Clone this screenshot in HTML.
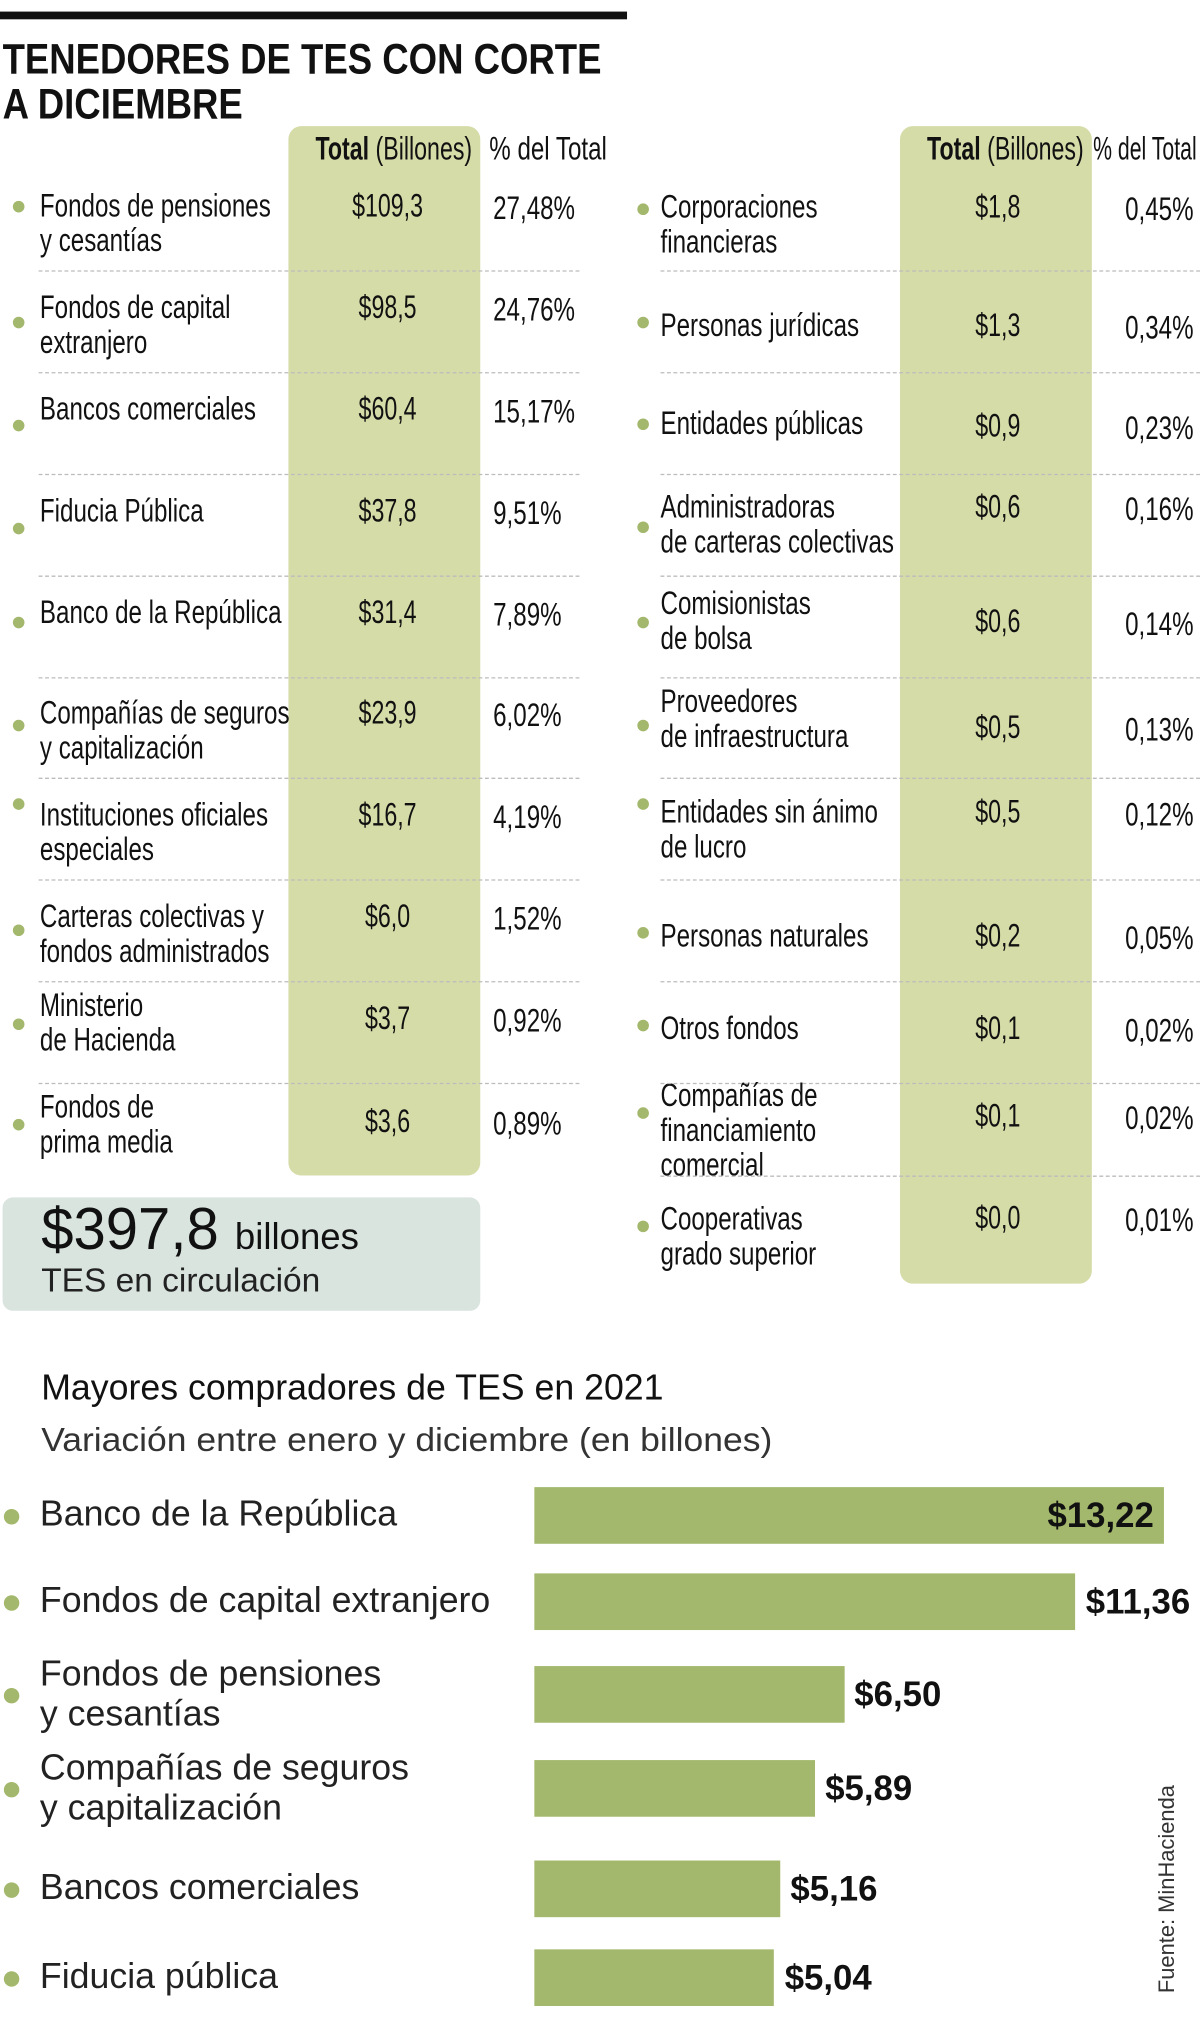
<!DOCTYPE html>
<html><head><meta charset="utf-8"><style>
html,body{margin:0;padding:0;background:#fff;}
body{width:1200px;height:2019px;overflow:hidden;position:relative;}
#wrap{position:absolute;left:0;top:0;width:932px;height:1568px;transform:scale(1.28755);transform-origin:0 0;font-family:"Liberation Sans",sans-serif;color:#111;}
.a{position:absolute;}
.n{position:absolute;white-space:nowrap;font-size:25px;line-height:27px;transform:scaleX(0.75);transform-origin:0 0;}
.pr{position:absolute;white-space:nowrap;font-size:25px;line-height:27px;transform:scaleX(0.75);transform-origin:100% 0;text-align:right;width:120px;}
.v{position:absolute;white-space:nowrap;font-size:25px;line-height:27px;transform:scaleX(0.72);text-align:center;width:150px;}
.b{position:absolute;width:9px;height:9px;border-radius:50%;background:#a3b86c;}
.dash{position:absolute;height:0;border-top:1.5px dashed #bcbcbc;}
</style></head><body>
<div id="wrap">
<div class="a" style="left:0;top:9px;width:487px;height:6px;background:#111"></div>
<div class="a" style="left:2px;top:28px;font-size:33px;font-weight:bold;line-height:35px;transform:scaleX(0.86);transform-origin:0 0;white-space:nowrap">TENEDORES DE TES CON CORTE<br>A DICIEMBRE</div>
<div class="a" style="left:224px;top:98px;width:149px;height:815px;background:#d6dca8;border-radius:10px"></div>
<div class="a" style="left:699px;top:98px;width:149px;height:899px;background:#d6dca8;border-radius:10px"></div>
<div class="v" style="left:224px;top:103px"><b>Total</b> (Billones)</div>
<div class="n" style="left:380px;top:103px">% del Total</div>
<div class="v" style="left:699px;top:103px"><b>Total</b> (Billones)</div>
<div class="n" style="left:849px;top:103px;transform:scaleX(0.66)">% del Total</div>
<div id="tables"></div>
<div class="a" style="left:2px;top:930px;width:371px;height:88px;background:#d9e4df;border-radius:8px"></div>
<div class="a" style="left:32px;top:928px;font-size:46px;line-height:52px;white-space:nowrap;transform:scaleX(0.98);transform-origin:0 0">$397,8 <span style="font-size:29px">billones</span></div>
<div class="a" style="left:32px;top:979px;font-size:26px;line-height:30px;white-space:nowrap;transform:scaleX(1.0);transform-origin:0 0;color:#222">TES en circulación</div>
<div class="a" style="left:32px;top:1061px;font-size:28px;line-height:34px;white-space:nowrap;transform:scaleX(0.99);transform-origin:0 0">Mayores compradores de TES en 2021</div>
<div class="a" style="left:32px;top:1101px;font-size:26px;line-height:34px;white-space:nowrap;transform:scaleX(1.06);transform-origin:0 0;color:#333">Variación entre enero y diciembre (en billones)</div>
<div id="bars"></div>
<div class="a" style="left:897px;top:1548px;font-size:17px;line-height:20px;white-space:nowrap;transform:rotate(-90deg);transform-origin:0 0;color:#333">Fuente: MinHacienda</div>
</div>
<script>
const leftNames=[["Fondos de pensiones","y cesantías"],["Fondos de capital","extranjero"],["Bancos comerciales"],["Fiducia Pública"],["Banco de la República"],["Compañías de seguros","y capitalización"],["Instituciones oficiales","especiales"],["Carteras colectivas y","fondos administrados"],["Ministerio","de Hacienda"],["Fondos de","prima media"]];
const leftVals=["$109,3","$98,5","$60,4","$37,8","$31,4","$23,9","$16,7","$6,0","$3,7","$3,6"];
const leftPcts=["27,48%","24,76%","15,17%","9,51%","7,89%","6,02%","4,19%","1,52%","0,92%","0,89%"];
const leftY=[[160,160,160],[239,239,250],[318,318,330],[397,397,410],[476,476,483],[554,554,563],[633,633,624],[712,712,722],[781,791,795],[860,871,873]];
const rightNames=[["Corporaciones","financieras"],["Personas jurídicas"],["Entidades públicas"],["Administradoras","de carteras colectivas"],["Comisionistas","de bolsa"],["Proveedores","de infraestructura"],["Entidades sin ánimo","de lucro"],["Personas naturales"],["Otros fondos"],["Compañías de","financiamiento","comercial"],["Cooperativas","grado superior"]];
const rightVals=["$1,8","$1,3","$0,9","$0,6","$0,6","$0,5","$0,5","$0,2","$0,1","$0,1","$0,0"];
const rightPcts=["0,45%","0,34%","0,23%","0,16%","0,14%","0,13%","0,12%","0,05%","0,02%","0,02%","0,01%"];
const rightY=[[161,161,162],[253,253,250],[329,331,329],[394,394,409],[469,483,483],[545,565,563],[631,631,624],[727,727,724],[799,799,796],[851,867,864],[947,946,952]];
const T=document.getElementById('tables');
function mk(cls,name,inter){const e=document.createElement('div');e.className=cls;


T.appendChild(e);return e;}
function table(names,vals,pcts,ys,lx,bx,vx,px,pr,side){
 names.forEach((nm,i)=>{
  const y=ys[i];
  const b=mk('b',side+'-bullet','false');b.style.left=bx+'px';b.style.top=(y[2]-4)+'px';
  const l=mk('n',side+'-holder-label','false');l.style.left=lx+'px';l.style.top=(y[0]-13)+'px';l.innerHTML=nm.join('<br>');
  const v=mk('v',side+'-holder-total','false');v.style.left=vx+'px';v.style.top=(y[1]-13)+'px';v.textContent=vals[i];
  let p;
  if(pr){p=mk('pr',side+'-holder-pct','false');p.style.left=(pr-120)+'px';}
  else{p=mk('n',side+'-holder-pct','false');p.style.left=px+'px';}
  p.textContent=pcts[i];p.style.top=(y[1]-11)+'px';
 });
}
table(leftNames,leftVals,leftPcts,leftY,31,10,226,383,0,'left');
table(rightNames,rightVals,rightPcts,rightY,513,495,700,0,927,'right');
[210,289,368,447,526,604,683,762,841].forEach(y=>{const d=mk('dash','left-row-divider','false');d.style.left='30px';d.style.width='420px';d.style.top=y+'px';});
[210,289,368,447,526,604,683,762,841,913].forEach(y=>{const d=mk('dash','right-row-divider','false');d.style.left='513px';d.style.width='419px';d.style.top=y+'px';});

const barCats=[["Banco de la República"],["Fondos de capital extranjero"],["Fondos de pensiones","y cesantías"],["Compañías de seguros","y capitalización"],["Bancos comerciales"],["Fiducia pública"]];
const barVals=[13.22,11.36,6.50,5.89,5.16,5.04];
const barLabels=["$13,22","$11,36","$6,50","$5,89","$5,16","$5,04"];
const B=document.getElementById('bars');
const x0=415,xMax=932,pxPer=37;
const xs=v=>x0+v*pxPer;
const barTop=[1155,1222,1294,1367,1445,1514];
barVals.forEach((v,i)=>{
 const top=barTop[i],xe=Math.min(xs(v),xMax);
 const r=document.createElement('div');
 
 
 r.style.cssText=`position:absolute;left:${x0}px;top:${top}px;width:${xe-x0}px;height:44px;background:#a3b86c`;
 B.appendChild(r);
 const t=document.createElement('div');
 
 
 const inside=xs(v)>xMax-90;
 t.style.cssText=`position:absolute;top:${top+5}px;font-size:27px;line-height:34px;font-weight:bold;white-space:nowrap;`+(inside?`right:${932-xe+8}px;`:`left:${xe+8}px;`);
 t.textContent=barLabels[i];B.appendChild(t);
 const c=barCats[i];
 const l=document.createElement('div');
 
 
 const ly=c.length>1?top-10:top+5;
 l.style.cssText=`position:absolute;left:31px;top:${ly}px;font-size:28px;line-height:31px;white-space:nowrap;transform:scaleX(0.99);transform-origin:0 0;color:#222`;
 l.innerHTML=c.join('<br>');B.appendChild(l);
 const d=document.createElement('div');
 
 
 d.style.cssText=`position:absolute;left:3px;top:${top+17}px;width:12px;height:12px;border-radius:50%;background:#a3b86c`;
 B.appendChild(d);
});
</script>
</body></html>
